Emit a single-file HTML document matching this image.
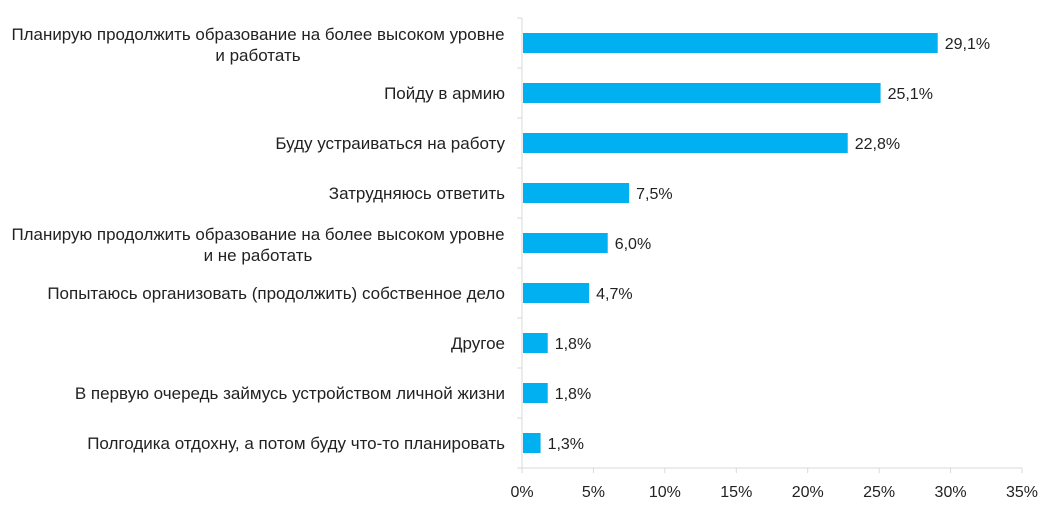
<!DOCTYPE html>
<html><head><meta charset="utf-8"><style>
body{margin:0;background:#fff;}
svg{display:block;font-family:"Liberation Sans","DejaVu Sans",sans-serif;}
</style></head><body>
<svg id="chart" width="1057" height="512" viewBox="0 0 1057 512" xmlns="http://www.w3.org/2000/svg"></svg>
<script>
const categories = [
  ["Планирую продолжить образование на более высоком уровне","и работать"],
  ["Пойду в армию"],
  ["Буду устраиваться на работу"],
  ["Затрудняюсь ответить"],
  ["Планирую продолжить образование на более высоком уровне","и не работать"],
  ["Попытаюсь организовать (продолжить) собственное дело"],
  ["Другое"],
  ["В первую очередь займусь устройством личной жизни"],
  ["Полгодика отдохну, а потом буду что-то планировать"]
];
const values = [29.1, 25.1, 22.8, 7.5, 6.0, 4.7, 1.8, 1.8, 1.3];
const valueLabels = ["29,1%","25,1%","22,8%","7,5%","6,0%","4,7%","1,8%","1,8%","1,3%"];
const ticks = [0,5,10,15,20,25,30,35];
const tickLabels = ["0%","5%","10%","15%","20%","25%","30%","35%"];

const svg = document.getElementById('chart');
const NS = "http://www.w3.org/2000/svg";
const x0 = 522, x1 = 1022, xMax = 35;
const yTop = 18, yBot = 468;
const band = (yBot - yTop) / categories.length;
const xs = v => x0 + (v / xMax) * (x1 - x0);
const yc = i => yTop + band * (i + 0.5);
function mk(tag, attrs){const e=document.createElementNS(NS,tag);for(const k in attrs)e.setAttribute(k,attrs[k]);svg.appendChild(e);return e;}

const ya = mk('line',{x1:x0,y1:yTop,x2:x0,y2:yBot,stroke:'#d9d9d9','stroke-width':1});


const xa = mk('line',{x1:x0,y1:yBot,x2:x1,y2:yBot,stroke:'#d9d9d9','stroke-width':1});



for (let i=0;i<=categories.length;i++){
  const t = mk('line',{x1:x0-5,y1:yTop+band*i,x2:x0,y2:yTop+band*i,stroke:'#d9d9d9'});
  
  
}
ticks.forEach((v,i)=>{
  const t = mk('line',{x1:xs(v),y1:yBot,x2:xs(v),y2:yBot+5,stroke:'#d9d9d9'});
  
  
  const l = mk('text',{x:xs(v),y:497,'text-anchor':'middle','font-size':16,fill:'#222'});
  l.textContent = tickLabels[i];
  
  
});

categories.forEach((lines,i)=>{
  const c = yc(i);
  const bar = mk('rect',{x:x0+1,y:c-10,width:xs(values[i])-x0-1,height:20,fill:'#00b0f0'});
  
  
  const vl = mk('text',{x:xs(values[i])+7,y:c+6,'font-size':16,fill:'#222'});
  vl.textContent = valueLabels[i];
  
  
  const g = mk('text',{'font-size':17,fill:'#222','text-anchor':'middle'});
  
  
  if (lines.length===1){
    g.setAttribute('text-anchor','end');
    g.setAttribute('x',505); g.setAttribute('y',c+6);
    g.textContent = lines[0];
  } else {
    lines.forEach((s,j)=>{
      const ts=document.createElementNS(NS,'tspan');
      ts.setAttribute('x',258); ts.setAttribute('y',c-3+j*21);
      if(j===0){ts.setAttribute('textLength',493);ts.setAttribute('lengthAdjust','spacingAndGlyphs');}
      ts.textContent=s; g.appendChild(ts);
    });
  }
});
</script>
</body></html>
